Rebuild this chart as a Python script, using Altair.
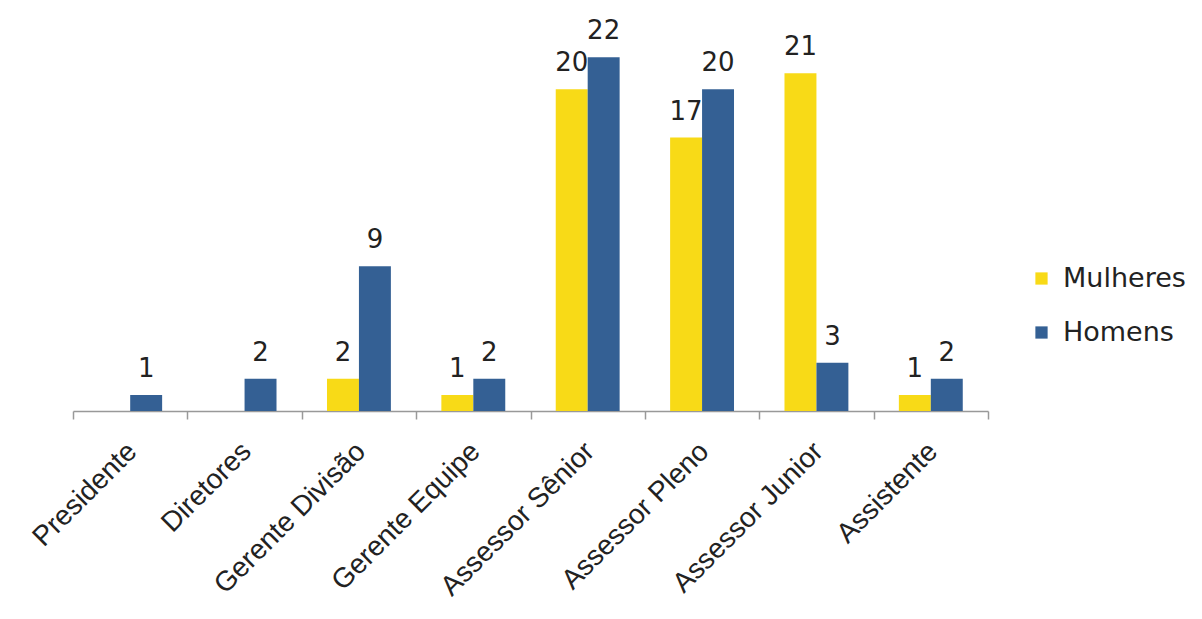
import altair as alt
import pandas as pd

categories = ["Presidente", "Diretores", "Gerente Divisão", "Gerente Equipe",
              "Assessor Sênior", "Assessor Pleno", "Assessor Junior", "Assistente"]
series = ["Mulheres", "Homens"]
mulheres = [0, 0, 2, 1, 20, 17, 21, 1]
homens = [1, 2, 9, 2, 22, 20, 3, 2]
colors = ["#F8DA17", "#346094"]

rows = []
for c, m, h in zip(categories, mulheres, homens):
    rows.append({"cargo": c, "serie": "Mulheres", "valor": m})
    rows.append({"cargo": c, "serie": "Homens", "valor": h})
df = pd.DataFrame(rows)
df = df[df["valor"] > 0]

FONT = "DejaVu Sans"
AXFONT = "Liberation Sans"

x = alt.X("cargo:N", sort=categories, title=None,
          scale=alt.Scale(paddingInner=0, paddingOuter=0),
          axis=alt.Axis(labelAngle=-45, labelAlign="right", labelBaseline="middle",
                        labelFontSize=28, labelFont=AXFONT, labelColor="#222222",
                        labelLimit=500,
                        labelPadding=28, labelOffset=2, tickBand="extent",
                        tickSize=8, tickColor="#999999", tickWidth=1.5,
                        domainColor="#999999", domainWidth=1.5, grid=False))
xo = alt.XOffset("serie:N", sort=series,
                 scale=alt.Scale(paddingInner=0, paddingOuter=0.79))
y = alt.Y("valor:Q", scale=alt.Scale(domain=[0, 24], nice=False), axis=None)
color = alt.Color("serie:N", sort=series,
                  scale=alt.Scale(domain=series, range=colors),
                  legend=alt.Legend(title=None, orient="none", legendX=955, legendY=240,
                                    symbolType="square", symbolSize=150,
                                    symbolStrokeWidth=0, labelFontSize=27,
                                    labelFont=FONT, labelColor="#222222",
                                    rowPadding=26, labelOffset=8))

base = alt.Chart(df)
bars = base.mark_bar().encode(x=x, xOffset=xo, y=y, color=color)
labels = base.mark_text(dy=-18, baseline="alphabetic", fontSize=26, font=FONT,
                        color="#222222").encode(x=x, xOffset=xo, y=y, text="valor:Q")

chart = (bars + labels).properties(
    width=915, height=386,
    autosize=alt.AutoSizeParams(type="none"),
    padding={"left": 65, "top": 17, "right": 206, "bottom": 199},
).configure_view(stroke=None)

chart.save("out.html", embed_options={"renderer": "svg", "actions": False})
